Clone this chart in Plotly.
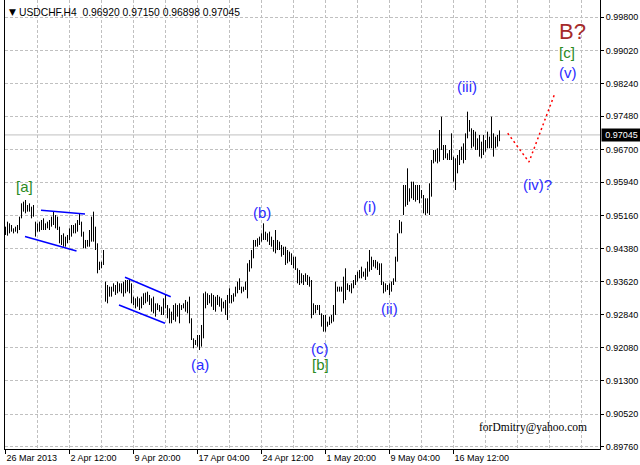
import plotly.graph_objects as go

# ---------------- data ----------------
symbol = "USDCHF,H4"
last_ohlc = [0.96920, 0.97150, 0.96898, 0.97045]
current_price = 0.97045

bar_high = [
    0.94901, 0.95018, 0.94979, 0.94940, 0.94862, 0.94901, 0.94940, 0.95135, 0.95446, 0.95485,
    0.95524, 0.95407, 0.95446, 0.95368, 0.95407, 0.95018, 0.94979, 0.95018, 0.95057, 0.95096,
    0.94979, 0.95018, 0.95057, 0.95135, 0.95252, 0.95174, 0.95135, 0.94901, 0.94707, 0.94745,
    0.94668, 0.94707, 0.94862, 0.94940, 0.94940, 0.94979, 0.95057, 0.95213, 0.95018, 0.94784,
    0.94590, 0.94590, 0.94823, 0.95135, 0.95252, 0.94901, 0.94512, 0.94083, 0.94083, 0.94356,
    0.93616, 0.93538, 0.93499, 0.93499, 0.93577, 0.93538, 0.93616, 0.93577, 0.93577, 0.93616,
    0.93655, 0.93655,
    0.93655, 0.93577, 0.93266, 0.93227, 0.93266, 0.93227, 0.93266, 0.93344, 0.93359, 0.93383,
    0.93305, 0.93227, 0.93266, 0.93110, 0.93110, 0.93071, 0.93032, 0.93227, 0.93305, 0.93071,
    0.92993, 0.92915, 0.93071, 0.93110, 0.93071, 0.93110, 0.93071, 0.93110, 0.93188, 0.93149,
    0.93266, 0.92760, 0.92292, 0.92253, 0.92370, 0.92370, 0.92604, 0.93344, 0.93383, 0.93344,
    0.93305, 0.93344, 0.93305, 0.93266, 0.93305, 0.93266, 0.93227, 0.93149, 0.93188, 0.93305,
    0.93461, 0.93305, 0.93344, 0.93499, 0.93616, 0.93694, 0.93499, 0.93499, 0.93616, 0.94045,
    0.94123, 0.94356,
    0.94590, 0.94590, 0.94629, 0.94668, 0.94746, 0.94979, 0.94784, 0.94746, 0.94784, 0.94668,
    0.94590, 0.94823, 0.94590, 0.94551, 0.94473, 0.94434, 0.94434, 0.94356, 0.94317, 0.94278,
    0.94200, 0.94200, 0.93928, 0.93889, 0.93811, 0.93772, 0.93811, 0.93772, 0.93733, 0.93655,
    0.93110, 0.93071, 0.93071, 0.93071, 0.92876, 0.92837, 0.92837, 0.92682, 0.92799, 0.92837,
    0.93071, 0.93616, 0.93499, 0.93499, 0.93499, 0.93733, 0.93928, 0.93577, 0.93538, 0.93577,
    0.93655, 0.93772, 0.93850, 0.93889, 0.93967, 0.93850, 0.93928, 0.94084, 0.94356, 0.94200,
    0.94123, 0.94123, 0.94084,
    0.94045, 0.94045, 0.93616, 0.93577, 0.93538, 0.93577, 0.93616, 0.93694, 0.94200, 0.94746,
    0.95057, 0.95018, 0.95875, 0.95875, 0.96264, 0.95797, 0.95953, 0.95953, 0.95875, 0.95875,
    0.95875, 0.95758, 0.95641, 0.95563, 0.95563, 0.95914, 0.96459, 0.96693, 0.96693, 0.96732,
    0.97160, 0.97471, 0.96809, 0.96809, 0.96615, 0.96693, 0.97082, 0.96537, 0.96498, 0.96576,
    0.96693, 0.96771, 0.96848, 0.97082, 0.97588, 0.97393, 0.97199, 0.97160, 0.97121, 0.96965,
    0.97043, 0.96887, 0.97043, 0.96926, 0.97121, 0.97004, 0.97471, 0.97082, 0.97004, 0.97043,
    0.97150,
]

bar_low = [
    0.94707, 0.94691, 0.94745, 0.94784, 0.94745, 0.94784, 0.94745, 0.94823, 0.95096, 0.95252,
    0.95213, 0.95252, 0.95252, 0.95096, 0.95135, 0.94668, 0.94784, 0.94784, 0.94823, 0.94823,
    0.94823, 0.94862, 0.94823, 0.94901, 0.94940, 0.94862, 0.94823, 0.94512, 0.94473, 0.94434,
    0.94434, 0.94512, 0.94590, 0.94668, 0.94745, 0.94745, 0.94784, 0.94940, 0.94668, 0.94395,
    0.94395, 0.94434, 0.94434, 0.94551, 0.94551, 0.94356, 0.93811, 0.93889, 0.93928, 0.94006,
    0.93149, 0.93110, 0.93266, 0.93266, 0.93383, 0.93305, 0.93344, 0.93383, 0.93344, 0.93266,
    0.93344, 0.93383,
    0.93344, 0.93110, 0.93071, 0.92993, 0.93032, 0.92954, 0.92993, 0.93071, 0.93110, 0.93149,
    0.93071, 0.92915, 0.92876, 0.92799, 0.92954, 0.92915, 0.92837, 0.92837, 0.92993, 0.92760,
    0.92643, 0.92643, 0.92721, 0.92682, 0.92799, 0.92643, 0.92954, 0.92993, 0.92915, 0.92876,
    0.92643, 0.92253, 0.92059, 0.92137, 0.92098, 0.92020, 0.92098, 0.92292, 0.92993, 0.93071,
    0.93110, 0.93032, 0.92954, 0.92915, 0.93071, 0.93032, 0.92915, 0.92993, 0.92837, 0.92721,
    0.93110, 0.93110, 0.93149, 0.93266, 0.93344, 0.93422, 0.93344, 0.93383, 0.93422, 0.93227,
    0.93850, 0.93928,
    0.94161, 0.94434, 0.94434, 0.94473, 0.94551, 0.94590, 0.94590, 0.94551, 0.94473, 0.94434,
    0.94317, 0.94278, 0.94356, 0.94356, 0.94200, 0.94239, 0.94006, 0.94045, 0.94084, 0.94006,
    0.93928, 0.93889, 0.93577, 0.93538, 0.93577, 0.93538, 0.93616, 0.93538, 0.93499, 0.92760,
    0.92837, 0.92876, 0.92954, 0.92837, 0.92565, 0.92448, 0.92448, 0.92565, 0.92604, 0.92643,
    0.92682, 0.92837, 0.93383, 0.93383, 0.93383, 0.93110, 0.93188, 0.93422, 0.93383, 0.93344,
    0.93461, 0.93538, 0.93616, 0.93694, 0.93694, 0.93733, 0.93655, 0.93733, 0.93850, 0.93889,
    0.93967, 0.93928, 0.93889,
    0.93772, 0.93538, 0.93344, 0.93383, 0.93422, 0.93305, 0.93383, 0.93538, 0.93616, 0.94084,
    0.94746, 0.94746, 0.95174, 0.95369, 0.95408, 0.95486, 0.95563, 0.95524, 0.95486, 0.95524,
    0.95447, 0.95563, 0.95213, 0.95174, 0.95213, 0.95174, 0.95602, 0.96381, 0.96420, 0.96381,
    0.96420, 0.96693, 0.96459, 0.96498, 0.96459, 0.96459, 0.96459, 0.95953, 0.95758, 0.96147,
    0.96342, 0.96459, 0.96381, 0.96459, 0.96965, 0.97121, 0.96732, 0.96771, 0.96693, 0.96693,
    0.96537, 0.96498, 0.96576, 0.96654, 0.96732, 0.96732, 0.96732, 0.96537, 0.96732, 0.96771,
    0.96898,
]

# time axis (bar index -> label)
date_label_bars = [0, 32, 64, 96, 128, 160, 192, 224]
date_labels = ["26 Mar 2013", "2 Apr 12:00", "9 Apr 20:00", "17 Apr 04:00",
               "24 Apr 12:00", "1 May 20:00", "9 May 04:00", "16 May 12:00"]
minor_grid_bars = [16, 48, 80, 112, 144, 176, 208, 240, 256, 272, 288]

price_ticks = [0.99800, 0.99020, 0.98240, 0.97480, 0.96700, 0.95940, 0.95160,
               0.94380, 0.93620, 0.92840, 0.92080, 0.91300, 0.90520, 0.89760]
price_tick_text = ["0.99800", "0.99020", "0.98240", "0.97480", "0.96700", "0.95940", "0.95160",
                   "0.94380", "0.93620", "0.92840", "0.92080", "0.91300", "0.90520", "0.89760"]
price_range = [0.897063, 1.001972]
bar_range = [-0.25, 297.25]

# channel lines (bar index, price)
channel_lines = [
    ([17.75, 39.75], [0.95284, 0.95197]),
    ([9.75, 35.5], [0.94671, 0.94333]),
    ([59.75, 82.6], [0.93718, 0.93265]),
    ([56.75, 79.75], [0.93071, 0.92643]),
]
# projected path
projection_bars = [251.1, 261.75, 274.75]
projection_prices = [0.97083, 0.96412, 0.98024]

# wave labels: (text, bar index, price, colour, size)
BLUE = "#2b2bff"
GREEN = "#2a8a1e"
wave_labels = [
    ("[a]", 9.25, 0.95851, GREEN, 15),
    ("(a)", 97.25, 0.91692, BLUE, 15),
    ("(b)", 128.25, 0.95221, BLUE, 15),
    ("(c)", 157.25, 0.92066, BLUE, 15),
    ("[b]", 157.25, 0.91692, GREEN, 15),
    ("(i)", 181.75, 0.95361, BLUE, 15),
    ("(ii)", 191.75, 0.92978, BLUE, 15),
    ("(iii)", 230.75, 0.98165, BLUE, 15),
    ("(iv)?", 265.75, 0.95898, BLUE, 15),
    ("(v)", 281.25, 0.98492, BLUE, 15),
    ("[c]", 280.75, 0.98982, GREEN, 15),
    ("B?", 283.25, 0.99473, "#a52a2a", 22),
]

# ---------------- figure ----------------
AXFONT = dict(family="Liberation Sans, Arial, sans-serif", size=9, color="black")
GRID = "#c0c0c0"

fig = go.Figure()

# current price line
fig.add_trace(go.Scatter(x=bar_range, y=[current_price, current_price], mode="lines",
                         line=dict(color="#c0c0c0", width=1), hoverinfo="skip"))

# OHLC bars as high-low lines
xs, ys = [], []
for i, (h, l) in enumerate(zip(bar_high, bar_low)):
    xs += [i, i, None]
    ys += [l, h, None]
fig.add_trace(go.Scatter(x=xs, y=ys, mode="lines", line=dict(color="black", width=1),
                         hoverinfo="skip"))

for cx, cy in channel_lines:
    fig.add_trace(go.Scatter(x=cx, y=cy, mode="lines", line=dict(color="#0000ff", width=1.5),
                             hoverinfo="skip"))

fig.add_trace(go.Scatter(x=projection_bars, y=projection_prices, mode="lines",
                         line=dict(color="#ff0000", width=1.5, dash="2px,3px"), hoverinfo="skip"))

for text, bx, by, col, size in wave_labels:
    fig.add_annotation(x=bx, y=by, xref="x", yref="y", text=text, showarrow=False,
                       font=dict(family="Liberation Sans, Arial, sans-serif", size=size, color=col))

# header
fig.add_annotation(xref="paper", yref="paper", x=0.004, y=0.973, xanchor="left", yanchor="middle",
                   text="\u25bc", showarrow=False,
                   font=dict(family="DejaVu Sans, sans-serif", size=9, color="black"))
header = symbol + "  " + " ".join("%.5f" % v for v in last_ohlc)
fig.add_annotation(xref="paper", yref="paper", x=0.02, y=0.973, xanchor="left", yanchor="middle",
                   text=header, showarrow=False, font=dict(family="Liberation Sans, Arial, sans-serif",
                                                           size=10.3, color="black"))

# current price marker on axis
fig.add_annotation(xref="paper", yref="y", x=1, y=current_price, xanchor="left", yanchor="middle",
                   xshift=1, text="%.5f" % current_price, showarrow=False, bgcolor="black",
                   width=37, align="center", borderpad=1,
                   font=dict(family="Liberation Sans, Arial, sans-serif", size=9, color="white"))

# watermark
fig.add_annotation(xref="paper", yref="paper", x=0.9815, y=0.0468, xanchor="right", yanchor="middle",
                   text="forDmitry@yahoo.com", showarrow=False,
                   font=dict(family="Liberation Serif, Times New Roman, serif", size=11.5, color="black"))

fig.update_layout(
    width=640, height=465,
    margin=dict(l=5, r=40, t=0, b=16),
    plot_bgcolor="white", paper_bgcolor="white",
    showlegend=False,
    xaxis=dict(
        range=bar_range, tickmode="array", tickvals=date_label_bars, ticktext=date_labels,
        ticks="outside", ticklen=4, tickcolor="black", ticklabelposition="outside right",
        showgrid=True, gridcolor=GRID, griddash="3px,2px", gridwidth=1,
        showline=True, linecolor="black", linewidth=1, zeroline=False,
        tickfont=AXFONT, fixedrange=True,
        minor=dict(tickmode="array", tickvals=minor_grid_bars, showgrid=True,
                   gridcolor=GRID, griddash="3px,2px", ticks=""),
    ),
    yaxis=dict(
        range=price_range, side="right", tickmode="array", tickvals=price_ticks,
        ticktext=price_tick_text, ticks="outside", ticklen=3, tickcolor="black",
        showgrid=True, gridcolor=GRID, griddash="3px,2px", gridwidth=1,
        showline=True, mirror=True, linecolor="black", linewidth=1, zeroline=False,
        tickfont=AXFONT, fixedrange=True,
    ),
)

fig.write_html("out.html", config={"displayModeBar": False},
               post_script="document.body.style.margin='0';document.body.style.overflow='hidden';")
